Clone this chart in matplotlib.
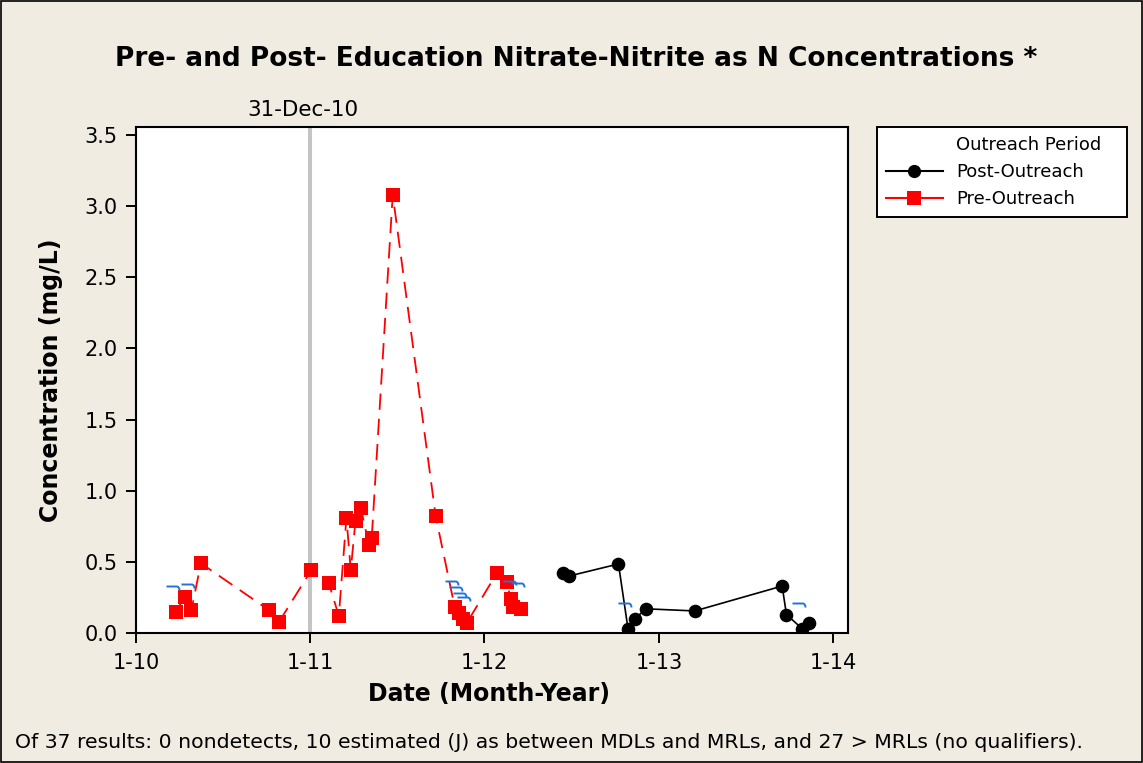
import matplotlib
matplotlib.use("Agg")
import matplotlib.pyplot as plt
import matplotlib.dates as mdates
from matplotlib.path import Path
from matplotlib.lines import Line2D
from matplotlib.patches import Rectangle
import matplotlib.transforms as mtransforms
import pandas as pd

# ---------------- data ----------------
pre_dates = ["2010-03-25", "2010-04-13", "2010-04-27", "2010-05-17", "2010-10-07",
             "2010-10-28", "2011-01-03", "2011-02-09", "2011-03-02", "2011-03-18",
             "2011-03-27", "2011-04-06", "2011-04-17", "2011-05-04", "2011-05-10",
             "2011-06-23", "2011-09-21", "2011-10-31", "2011-11-08", "2011-11-17",
             "2011-11-25", "2012-01-27", "2012-02-17", "2012-02-25", "2012-03-01",
             "2012-03-17"]
pre_values = [0.15, 0.25, 0.16, 0.49, 0.16,
              0.08, 0.44, 0.35, 0.12, 0.81,
              0.44, 0.79, 0.88, 0.62, 0.67,
              3.08, 0.82, 0.18, 0.14, 0.10,
              0.07, 0.42, 0.36, 0.24, 0.18,
              0.17]
pre_estimated = [True, False, True, False, False,
                 False, False, False, False, False,
                 False, False, False, False, False,
                 False, False, True, True, True,
                 True, False, False, False, True,
                 True]

post_dates = ["2012-06-14", "2012-06-26", "2012-10-08", "2012-10-28", "2012-11-11",
              "2012-12-05", "2013-03-17", "2013-09-16", "2013-09-25", "2013-10-28",
              "2013-11-12"]
post_values = [0.42, 0.40, 0.485, 0.03, 0.10,
               0.17, 0.155, 0.33, 0.13, 0.03,
               0.07]
post_estimated = [False, False, False, True, False,
                  False, False, False, False, True,
                  False]

x_tick_dates = ["2010-01-01", "2011-01-01", "2012-01-01", "2013-01-01", "2014-01-01"]
x_tick_labels = ["1-10", "1-11", "1-12", "1-13", "1-14"]
y_ticks = [0.0, 0.5, 1.0, 1.5, 2.0, 2.5, 3.0, 3.5]
ref_date = "2010-12-31"
ref_label = "31-Dec-10"

title = "Pre- and Post- Education Nitrate-Nitrite as N Concentrations *"
footer = ("Of 37 results: 0 nondetects, 10 estimated (J) as between MDLs and MRLs, "
          "and 27 > MRLs (no qualifiers).")

# ---------------- figure ----------------
BG = "#F0ECE2"
DPI = 100
plt.rcParams['font.family'] = ['DejaVu Sans']
fig = plt.figure(figsize=(11.43, 7.63), dpi=DPI, facecolor=BG)

ax = fig.add_axes([136 / 1143, 1 - 633 / 763, (848 - 136) / 1143, (633 - 127) / 763])
ax.set_facecolor("white")

pre_x = mdates.date2num(pd.to_datetime(pre_dates).to_pydatetime())
post_x = mdates.date2num(pd.to_datetime(post_dates).to_pydatetime())
ref_x = mdates.date2num(pd.Timestamp(ref_date).to_pydatetime())

# reference line
ax.axvline(ref_x, color="#C4C4C4", lw=2.9, zorder=1)

ax.plot(pre_x, pre_values, color="#FF0000", lw=1.3, dashes=(9, 5),
        marker="s", markersize=9.8, markerfacecolor="#FF0000",
        markeredgecolor="#FF0000", markeredgewidth=0, zorder=3)
ax.plot(post_x, post_values, color="black", lw=1.2,
        marker="o", markersize=9.8, markerfacecolor="black",
        markeredgecolor="black", markeredgewidth=0, zorder=3)

# estimated (J) hooks
hook_path = Path([(-10, 26), (0, 26), (3, 26), (3, 22)],
                 [Path.MOVETO, Path.LINETO, Path.CURVE3, Path.CURVE3])
hook_ms = 52 * 72 / DPI
est_x = [d for d, e in zip(pre_x, pre_estimated) if e] + \
        [d for d, e in zip(post_x, post_estimated) if e]
est_y = [v for v, e in zip(pre_values, pre_estimated) if e] + \
        [v for v, e in zip(post_values, post_estimated) if e]
ax.plot(est_x, est_y, linestyle="none", marker=hook_path, markersize=hook_ms,
        markerfacecolor="none", markeredgecolor="#1F74D6", markeredgewidth=1.4,
        zorder=4, clip_on=False)

ax.set_xlim(mdates.date2num(pd.Timestamp("2010-01-01").to_pydatetime()),
            mdates.date2num(pd.Timestamp("2014-02-01").to_pydatetime()))
ax.set_ylim(0, 3.556)
ax.set_xticks(mdates.date2num(pd.to_datetime(x_tick_dates).to_pydatetime()))
ax.set_xticklabels(x_tick_labels)
ax.set_yticks(y_ticks)
ax.set_yticklabels([f"{v:.1f}" for v in y_ticks])
ax.tick_params(axis="both", direction="out", length=7.2, width=1.4,
               labelsize=15, colors="black")
ax.tick_params(axis="y", pad=6)
ax.tick_params(axis="x", pad=7)
for s in ax.spines.values():
    s.set_linewidth(1.5)
    s.set_color("black")

ax.set_xlabel("Date (Month-Year)", fontsize=17, fontweight="bold")
ax.set_ylabel("Concentration (mg/L)", fontsize=17, fontweight="bold")
ax.xaxis.set_label_coords(0.496, -0.097)
ax.yaxis.set_label_coords(-0.1025, 0.5)

# reference label
trans = mtransforms.blended_transform_factory(ax.transData, ax.transAxes)
ax.annotate(ref_label, xy=(ref_x, 1.0), xycoords=trans,
            xytext=(-7, 7), textcoords="offset pixels", ha="center", va="bottom",
            fontsize=15.5, annotation_clip=False)

fig.text(576.5 / 1143, 1 - 59 / 763, title, ha="center", va="center",
         fontsize=19, fontweight="bold")
fig.text(15 / 1143, 1 - 742 / 763, footer, ha="left", va="center", fontsize=14.7)

# legend
handles = [
    Line2D([], [], color="none", label="Outreach Period"),
    Line2D([], [], color="black", lw=1.5, marker="o", markersize=9.5,
           markeredgewidth=0, label="Post-Outreach"),
    Line2D([], [], color="#FF0000", lw=1.5, marker="s", markersize=9.5,
           markeredgewidth=0, label="Pre-Outreach"),
]
leg = fig.legend(handles=handles, loc="upper left",
                 bbox_to_anchor=(877 / 1143, 1 - 128 / 763, (1127 - 877) / 1143, 0.001),
                 mode="expand", fontsize=13, frameon=True, fancybox=False,
                 edgecolor="black", facecolor="white", framealpha=1,
                 handlelength=3.15, handletextpad=0.72, labelspacing=0.5,
                 borderpad=0.5, borderaxespad=0)
leg.get_frame().set_linewidth(1.4)

# outer border
fig.patches.append(Rectangle((0.0008, 0.0012), 0.9984, 0.9976, transform=fig.transFigure,
                             fill=False, edgecolor="black", lw=1.2))

fig.savefig("out.png", dpi=DPI, facecolor=BG)
